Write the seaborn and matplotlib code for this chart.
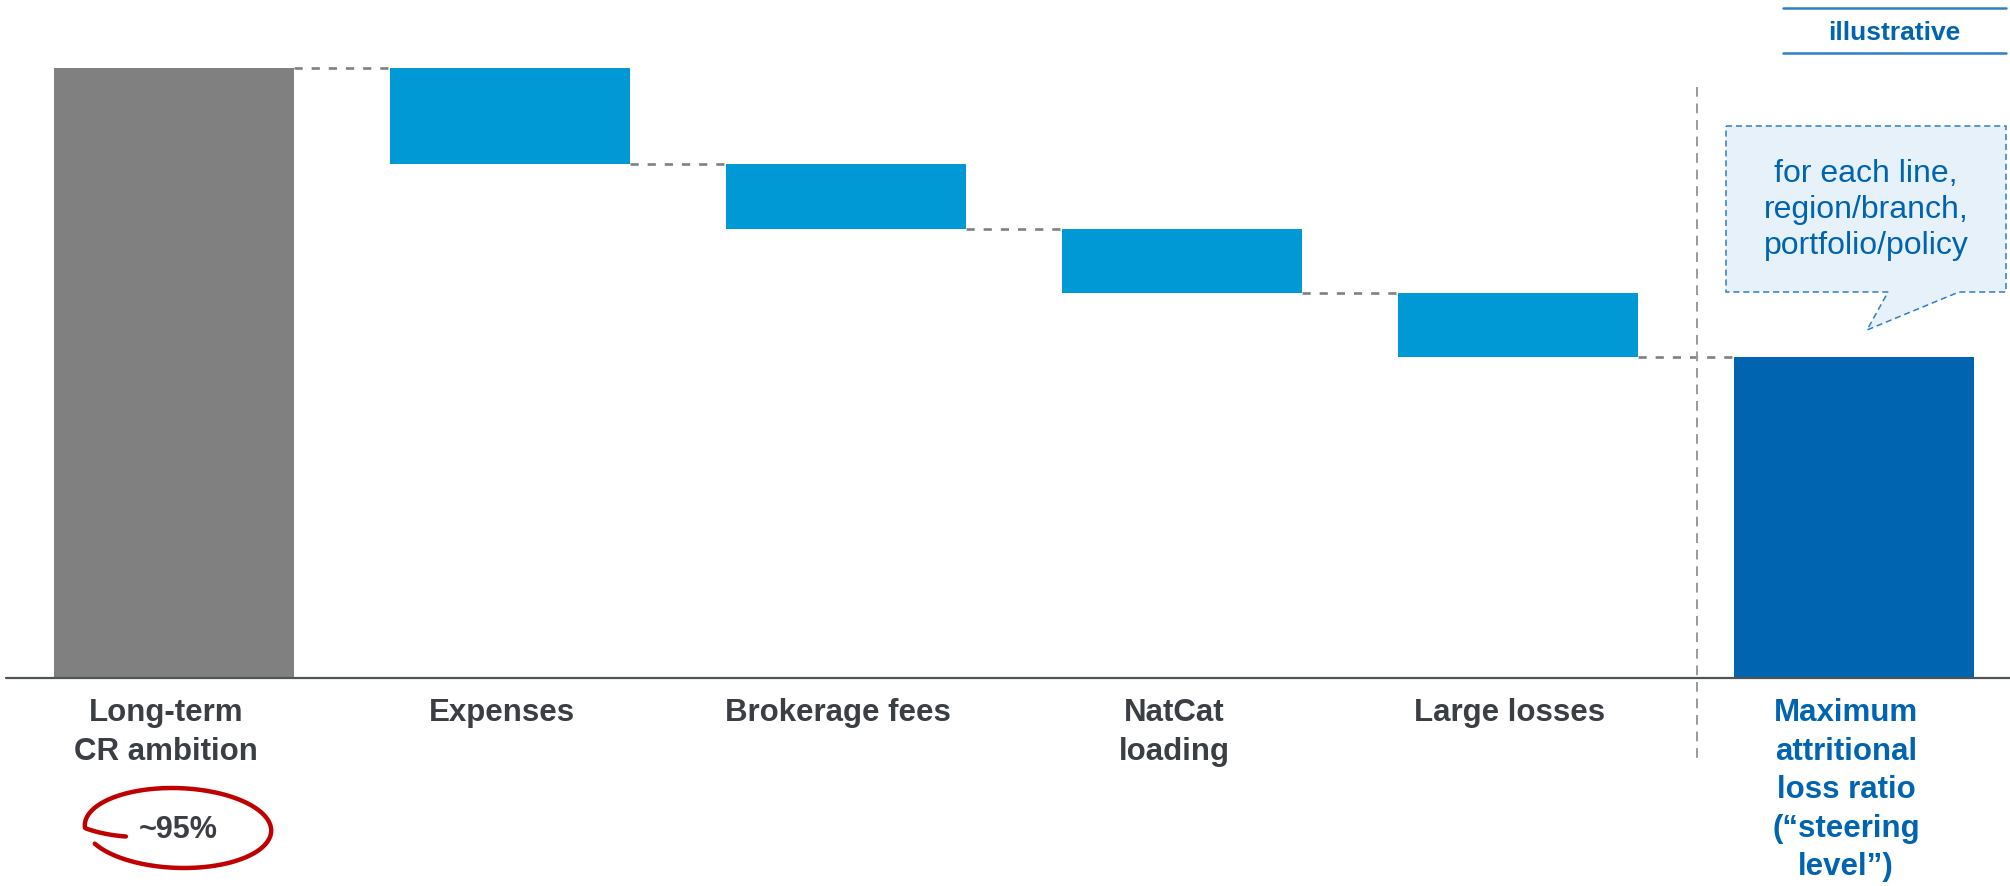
import numpy as np
import pandas as pd
import seaborn as sns
import matplotlib.pyplot as plt
from matplotlib.patches import Polygon

sns.set_style("white")
plt.rcParams['font.family'] = ['Liberation Sans', 'DejaVu Sans']

# Datos del waterfall (en % del ratio combinado)
categorias = ["Long-term\nCR ambition", "Expenses", "Brokerage fees",
              "NatCat\nloading", "Large losses",
              "Maximum\nattritional\nloss ratio\n(\u201csteering\nlevel\u201d)"]
inicio = 95
pasos = [-15, -10, -10, -10]
etiqueta_inicio = "~95%"
nota_caja = "for each line,\nregion/branch,\nportfolio/policy"
nota_esquina = "illustrative"

# Alturas y bases de cada barra
acumulado = np.cumsum([inicio] + pasos)          # 95, 80, 70, 60, 50
final = acumulado[-1]
alturas = [inicio] + [-p for p in pasos] + [final]
bases = [0] + list(acumulado[1:]) + [0]

gris = "#808080"
azul_claro = "#0099D5"
azul_oscuro = "#0064B0"
texto_gris = "#3B3F44"
colores = [gris] + [azul_claro] * len(pasos) + [azul_oscuro]
colores_texto = [texto_gris] * (len(categorias) - 1) + [azul_oscuro]

# Escala de pixeles -> datos (figura 2010x886)
X0, XU, Y0, YU = 174, 336, 678, 6.421
def px(x, y):
    return (x - X0) / XU, (Y0 - y) / YU

fig = plt.figure(figsize=(20.1, 8.86), dpi=100)
ax = fig.add_axes([0, 0, 1, 1])

df = pd.DataFrame({"cat": categorias, "valor": alturas})
sns.barplot(data=df, x="cat", y="valor", order=categorias, width=0.714,
            saturation=1, errorbar=None, color=gris, ax=ax, zorder=2)

# mover cada barra a su base y darle color
for p, b, c in zip(ax.patches, bases, colores):
    p.set_y(b)
    p.set_facecolor(c)
    p.set_edgecolor("none")

ax.set_xlim(px(0, 0)[0], px(2010, 0)[0])
ax.set_ylim(px(0, 886)[1], px(0, 0)[1])
ax.set_axis_off()

# lineas de conexion punteadas
w = 0.714 / 2
for i, nivel in enumerate(acumulado):
    ax.plot([i + w, i + 1 - w], [nivel, nivel], color=gris, lw=1.9,
            ls=(0, (3.1, 3.4)), zorder=1)

# linea base
ax.plot([px(6, 0)[0], px(2010, 0)[0]], [0, 0], color="#4F5458", lw=1.6, zorder=3)

# separador vertical
xs, y1 = px(1697, 87)
_, y2 = px(1697, 759)
ax.plot([xs, xs], [y1, y2], color="#9A9A9A", lw=1.4, ls=(0, (5, 3.5)), zorder=1)

# etiquetas de categoria
_, ylab = px(0, 698)
dx = 8 / XU
for i, (cat, c) in enumerate(zip(categorias, colores_texto)):
    ax.text(i - dx, ylab, cat, ha="center", va="top", fontsize=22.5,
            fontweight="bold", color=c, linespacing=1.37)

# ~95% con circulo rojo
tx, ty = px(178, 838)
ax.text(tx, ty, etiqueta_inicio, ha="center", va="baseline", fontsize=22,
        fontweight="bold", color=texto_gris)
th = np.radians(np.linspace(200, -157, 300))
r = np.clip(0.62 + (np.radians(200) - th) * 1.1, 0, 1)
ex = 178 + 93 * r * np.cos(th) - 6 * np.sin(th)
ey = 828 - 40 * r * np.sin(th)
cx, cy = px(ex, ey)
ax.plot(cx, cy, color="#C00000", lw=3.2, solid_capstyle="round", zorder=4)

# caja de comentario
verts = [px(1726, 126), px(2006, 126), px(2006, 292), px(1959, 292),
         px(1867, 330), px(1888, 292), px(1726, 292)]
ax.add_patch(Polygon(verts, closed=True, facecolor="#E7F1FA", edgecolor="#2E7EC8",
                     lw=1.1, ls=(0, (4, 2.5)), zorder=2))
bx, by = px(1866, 210)
ax.text(bx, by, nota_caja, ha="center", va="center", fontsize=23,
        color=azul_oscuro, linespacing=1.25, zorder=3)

# "illustrative"
for yl in (8, 53):
    xa, ya = px(1783, yl)
    xb, _ = px(2006, yl)
    ax.plot([xa, xb], [ya, ya], color="#2F80C8", lw=1.8)
ix, iy = px(1894, 33)
ax.text(ix, iy, nota_esquina, ha="center", va="center", fontsize=19,
        fontweight="bold", color=azul_oscuro)

fig.savefig("out.png", dpi=100)
